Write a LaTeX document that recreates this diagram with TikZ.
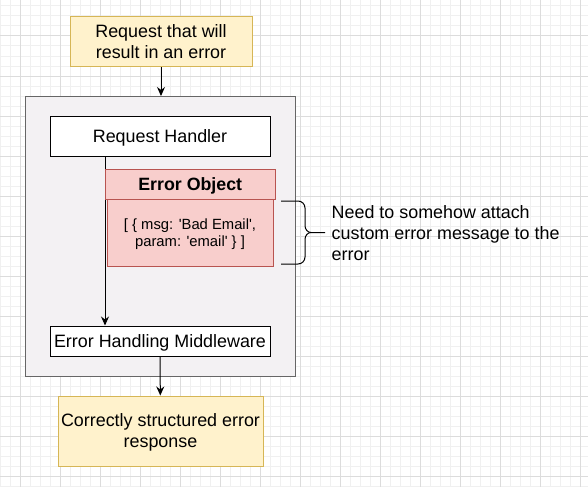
\documentclass[tikz,border=0pt]{standalone}
\usepackage{fontspec}
\setmainfont{Liberation Sans}
\usetikzlibrary{arrows.meta}
\definecolor{noteyellow}{HTML}{FFF2CC}
\definecolor{noteyellowline}{HTML}{D6B656}
\definecolor{errred}{HTML}{F8CECC}
\definecolor{errredline}{HTML}{B85450}
\definecolor{groupgrey}{HTML}{F3F1F3}
\definecolor{gridminor}{HTML}{F0F0F0}
\definecolor{gridmajor}{HTML}{DCDCDC}
\newcommand{\sq}{\textquotesingle}
\tikzset{
  yellowbox/.style={draw=noteyellowline, fill=noteyellow, line width=1pt, align=center, text depth=0pt},
  plainbox/.style={draw=black, fill=white, line width=1pt, text depth=0pt},
  redbox/.style={draw=errredline, fill=errred, line width=1pt, align=center, text depth=0pt},
  flow/.style={-{Stealth[length=9pt,width=8pt]}, line width=1pt}
}
\begin{document}
\begin{tikzpicture}[x=1pt, y=-1pt, font=\fontsize{17.9}{21}\selectfont, inner sep=0pt]
    \useasboundingbox (0,0) rectangle (588,487);
    % background grid
    \foreach \gx in {0.7,10.7,...,590} \draw [gridminor, line width=1pt] (\gx,0) -- (\gx,487);
    \foreach \gy in {6,16,...,490} \draw [gridminor, line width=1pt] (0,\gy) -- (588,\gy);
    \foreach \gx in {20.7,60.7,...,590} \draw [gridmajor, line width=1pt] (\gx,0) -- (\gx,487);
    \foreach \gy in {36,76,...,490} \draw [gridmajor, line width=1pt] (0,\gy) -- (588,\gy);
    % boxes
    \node [yellowbox, minimum width=182pt, minimum height=50pt] (request) at (161,41.5) {Request that will\\result in an error};
    \node [draw=black!60, fill=groupgrey, line width=1pt, minimum width=270pt, minimum height=279.5pt] (app) at (160.5,236.25) {};
    \node [plainbox, minimum width=220pt, minimum height=40pt] (handler) at (160,136) {Request Handler};
    \node [plainbox, minimum width=220pt, minimum height=30pt] (middleware) at (160,341) {Error Handling Middleware};
    \coordinate (hout) at (105,156);
    \draw [flow] (hout) -- (hout |- middleware.north);
    \node [redbox, minimum width=170pt, minimum height=30pt, font=\fontsize{17.8}{21}\selectfont\bfseries] (errhead) at (190.25,184) {Error Object};
    \node [redbox, minimum width=166pt, minimum height=67.5pt, font=\fontsize{14.8}{17.7}\selectfont] (errbody) at (190,232.75) {[ \{ msg: \sq Bad Email\sq,\\param: \sq email\sq\ \} ]};
    \node [yellowbox, minimum width=205pt, minimum height=70pt] (response) at (160.5,431) {Correctly structured error\\response};
    % connectors
    \draw [flow] (request) -- (request |- app.north);
    \draw [flow] (middleware) -- (response);
    % brace and note
    \draw [line width=1pt] (281,201) -- (298,201) to[out=0,in=90] (305,208) -- (305,225.5) to[out=-90,in=180] (311,232.5) coordinate (tip) -- (325,232.5);
    \draw [line width=1pt] (281,264) -- (298,264) to[out=0,in=-90] (305,257) -- (305,239.5) to[out=90,in=180] (tip);
    \node [anchor=west, align=left] (note) at (331.5,233) {Need to somehow attach\\custom error message to the\\error};
\end{tikzpicture}
\end{document}
